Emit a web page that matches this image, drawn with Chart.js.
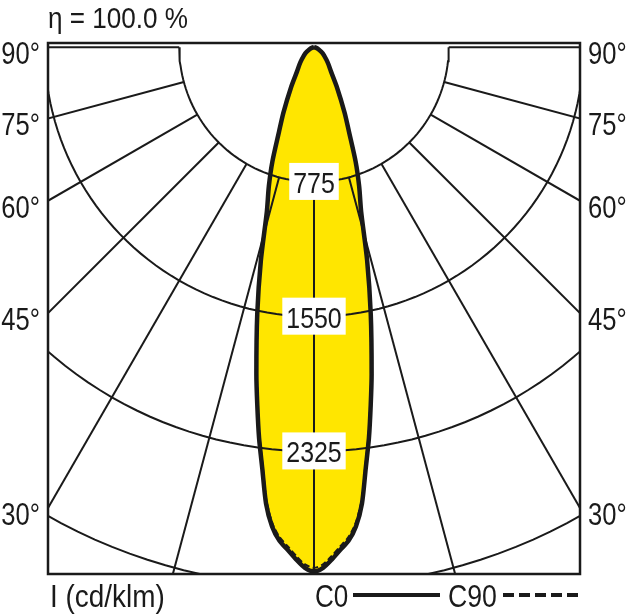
<!DOCTYPE html>
<html>
<head>
<meta charset="utf-8">
<script src="https://cdn.jsdelivr.net/npm/chart.js@4.4.1/dist/chart.umd.min.js"></script>
<style>
  html, body { margin: 0; padding: 0; background: #fff; }
  #wrap { width: 629px; height: 616px; position: relative; }
</style>
</head>
<body>
<div id="wrap"><canvas id="ldc"></canvas></div>
<script>
// gamma angle (deg from nadir) and luminous intensity (cd/klm)
const gammaAngles = [0, 1, 2, 3, 4, 5, 6, 7, 8, 9, 10, 12, 14, 16, 18, 20, 22.5, 25, 30, 35, 40, 45, 55, 65, 75, 90];
const intensityC0 = [3015, 2995, 2948, 2895, 2846, 2767, 2639, 2441, 2270, 2085, 1909, 1570, 1263, 984, 840, 700, 525, 417, 260, 170, 130, 100, 60, 30, 10, 0];
const intensityC90 = [2995, 2975, 2928, 2875, 2826, 2748, 2620, 2424, 2254, 2070, 1895, 1558, 1253, 976, 833, 694, 520, 412, 256, 167, 127, 97, 58, 28, 9, 0];

const circleValues = [775, 1550, 2325, 3100];
const circleLabels = ['775', '1550', '2325'];
const radialAngles = [0, 15, 30, 45, 60, 75, 90];
const sideAngles = [90, 75, 60, 45, 30];
const sideLabels = ['90°', '75°', '60°', '45°', '30°'];
const efficiencyText = 'η = 100.0 %';
const unitText = 'I (cd/klm)';
const planeNames = ['C0', 'C90'];

const FONT = '"Liberation Sans", Arial, sans-serif';
const INK = '#1a1a1a';
const YELLOW = '#ffe600';
const X_MAX = 1530;

function toXY(gamma, value) {
    const g = gamma * Math.PI / 180;
    return { x: value * Math.sin(g), y: -value * Math.cos(g) };
}

// lobe runs from the left side (negative gamma) round to the right side
function lobePoints(values) {
    const pts = [];
    for (let i = gammaAngles.length - 1; i >= 0; i--) pts.push(toXY(-gammaAngles[i], values[i]));
    for (let i = 1; i < gammaAngles.length; i++) pts.push(toXY(gammaAngles[i], values[i]));
    return pts;
}

function gridLine(data) {
    return {
        data: data, showLine: true, borderColor: INK, borderWidth: 2,
        pointRadius: 0, fill: false, tension: 0, order: 5
    };
}

const datasets = [];

// yellow area (drawn first)
datasets.push({
    data: lobePoints(intensityC0), showLine: true, borderWidth: 0, borderColor: 'rgba(0,0,0,0)',
    backgroundColor: YELLOW, fill: 'shape', pointRadius: 0, tension: 0.25, order: 10
});

// intensity circles
circleValues.forEach(v => {
    const pts = [];
    for (let a = -90; a <= 90; a += 2) pts.push(toXY(a, v));
    datasets.push(gridLine(pts));
});

// radial lines, starting at the first circle
radialAngles.forEach(a => {
    datasets.push(gridLine([toXY(a, circleValues[0]), toXY(a, 4500)]));
    if (a !== 0) datasets.push(gridLine([toXY(-a, circleValues[0]), toXY(-a, 4500)]));
});

// C0 solid
datasets.push({
    data: lobePoints(intensityC0), showLine: true, borderColor: INK, borderWidth: 4.5,
    pointRadius: 0, fill: false, tension: 0.25, order: 3
});
// C90 dashed
datasets.push({
    data: lobePoints(intensityC90), showLine: true, borderColor: INK, borderWidth: 2,
    borderDash: [6, 3], pointRadius: 0, fill: false, tension: 0.25, order: 1
});

// condensed look: Liberation Sans squeezed horizontally
function drawText(ctx, text, x, y, size, align, sx) {
    ctx.save();
    ctx.font = size + 'px ' + FONT;
    ctx.textBaseline = 'alphabetic';
    const w = ctx.measureText(text).width * sx;
    let left = x;
    if (align === 'center') left = x - w / 2;
    if (align === 'right') left = x - w;
    ctx.translate(left, y);
    ctx.scale(sx, 1);
    ctx.textAlign = 'left';
    ctx.fillStyle = INK;
    ctx.fillText(text, 0, 0);
    ctx.restore();
    return w;
}

const decorations = {
    id: 'decorations',
    afterDatasetsDraw(chart) {
        const ctx = chart.ctx;
        const xs = chart.scales.x, ys = chart.scales.y;
        const area = chart.chartArea;
        const cx = xs.getPixelForValue(0);
        ctx.save();

        // value labels on white boxes
        circleLabels.forEach((t, i) => {
            const cy = ys.getPixelForValue(-circleValues[i]);
            ctx.font = '30px ' + FONT;
            const w = ctx.measureText(t).width * 0.83 + 8;
            ctx.fillStyle = '#fff';
            ctx.fillRect(cx - w / 2, cy - 19, w, 37);
            drawText(ctx, t, cx, cy + 11, 30, 'center', 0.83);
        });

        // frame
        ctx.strokeStyle = INK;
        ctx.lineWidth = 2.5;
        ctx.strokeRect(area.left, area.top, area.right - area.left, area.bottom - area.top);

        // angle labels on both sides
        sideAngles.forEach((a, i) => {
            const yv = a === 90 ? 0 : -X_MAX / Math.tan(a * Math.PI / 180);
            const py = ys.getPixelForValue(yv) + 17;
            drawText(ctx, sideLabels[i], area.left - 8, py, 32, 'right', 0.8);
            drawText(ctx, sideLabels[i], area.right + 8, py, 32, 'left', 0.8);
        });

        // efficiency
        drawText(ctx, efficiencyText, area.left, 28, 30, 'left', 0.87);

        // bottom: unit and legend
        drawText(ctx, unitText, area.left + 2, 607, 31, 'left', 0.9);
        drawText(ctx, planeNames[0], cx + 1, 607, 31, 'left', 0.84);
        drawText(ctx, planeNames[1], 448, 607, 31, 'left', 0.86);
        ctx.strokeStyle = INK;
        ctx.lineWidth = 4;
        ctx.beginPath();
        ctx.moveTo(353, 595); ctx.lineTo(440, 595);
        ctx.stroke();
        ctx.setLineDash([11, 5]);
        ctx.beginPath();
        ctx.moveTo(503, 595); ctx.lineTo(578, 595);
        ctx.stroke();
        ctx.restore();
    }
};

new Chart(document.getElementById('ldc'), {
    type: 'scatter',
    data: { datasets: datasets },
    options: {
        responsive: true,
        maintainAspectRatio: false,
        animation: false,
        layout: { padding: { left: 48, right: 49, top: 43, bottom: 42 } },
        scales: {
            x: { type: 'linear', min: -X_MAX, max: X_MAX, display: false },
            y: { type: 'linear', min: -3030, max: 24, display: false }
        },
        plugins: { legend: { display: false }, tooltip: { enabled: false } }
    },
    plugins: [decorations]
});
</script>
</body>
</html>
